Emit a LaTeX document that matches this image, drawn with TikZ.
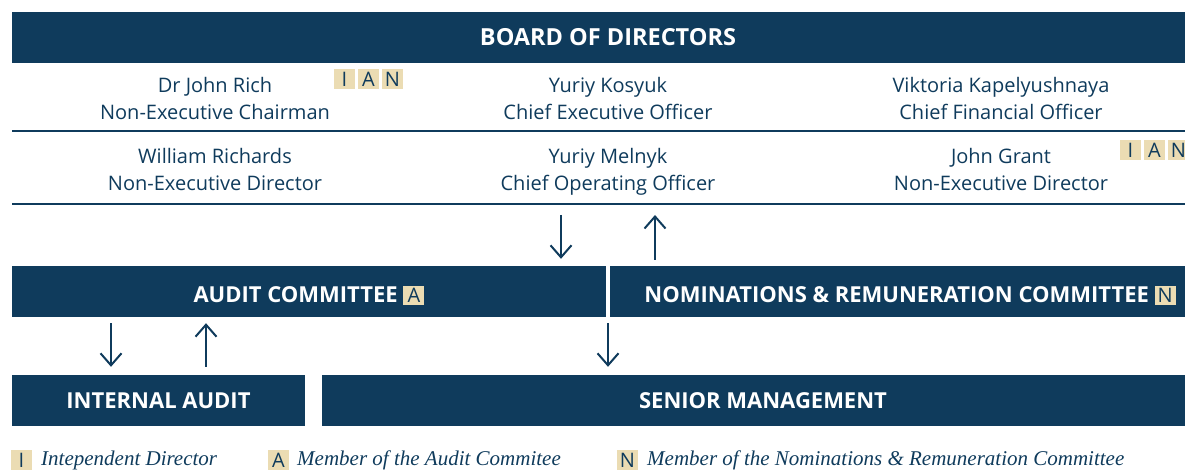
\documentclass[tikz,border=0pt]{standalone}
\usepackage{fontspec}
\setmainfont{Open Sans}
\newfontfamily\legendfont{Liberation Serif}
\usetikzlibrary{arrows.meta}
\definecolor{navy}{HTML}{0F3B5C}
\definecolor{sand}{HTML}{EBDCB3}
\newcommand\tagbox[1]{{\setlength\fboxsep{0pt}\colorbox{sand}{\rule[-2pt]{0pt}{19pt}\makebox[21pt]{\color{navy}\mdseries\fontsize{20}{20}\selectfont#1}}}}
\tikzset{
  bar/.style={fill=navy, text=white, inner sep=0pt, minimum height=51pt,
    font=\bfseries\fontsize{22}{22}\selectfont},
  tagged/.style={text height=24pt, text depth=2pt},
  person/.style={text=navy, align=center, font=\fontsize{20}{27}\selectfont,
    execute at begin node=\strut, execute at end node=\strut},
  badge/.style={fill=sand, text=navy, inner sep=0pt, minimum width=21pt,
    minimum height=20pt, font=\fontsize{20}{20}\selectfont},
  rowline/.style={navy, line width=2.5pt},
  flow/.style={navy, line width=2pt, -{Straight Barb[length=12pt,width=21pt]}},
  legend/.style={text=navy, anchor=west, inner sep=0pt,
    font=\legendfont\itshape\fontsize{21}{21}\selectfont}
}

\begin{document}
\begin{tikzpicture}[x=1pt,y=-1pt]
\clip (0,0) rectangle (1185,470);

\node[bar, minimum width=1192pt, font=\bfseries\fontsize{23.5}{23.5}\selectfont] (board) at (608,37.5) {BOARD OF DIRECTORS};

\node[person] (rich)     at (215,102)  {Dr John Rich\\Non-Executive Chairman};
\node[person] (kosyuk)   at (608,102)  {Yuriy Kosyuk\\Chief Executive Officer};
\node[person] (kapel)    at (1001,102) {Viktoria Kapelyushnaya\\Chief Financial Officer};
\node[person] (richards) at (215,173)  {William Richards\\Non-Executive Director};
\node[person] (melnyk)   at (608,173)  {Yuriy Melnyk\\Chief Operating Officer};
\node[person] (grant)    at (1001,173) {John Grant\\Non-Executive Director};

\foreach \t [count=\i] in {I,A,N} {
  \node[badge] (rich\t)  at (320.5+24*\i,79)  {\t};
  \node[badge] (grant\t) at (1106.5+24*\i,150) {\t};
}

\coordinate (rule1) at (12,131);
\coordinate (rule2) at (12,204);
\draw[rowline] (rule1) -- (1185,131);
\draw[rowline] (rule2) -- (1185,204);

\node[bar, tagged, minimum width=594pt] (audit) at (309,291.5) {AUDIT COMMITTEE \tagbox{A}};
\node[bar, tagged, minimum width=600pt] (nom) at (910,291.5) {NOMINATIONS \& REMUNERATION COMMITTEE \tagbox{N}};
\node[bar, minimum width=293pt] (internal) at (158.5,400.5) {INTERNAL AUDIT};
\node[bar, minimum width=882pt] (senior) at (763,400.5) {SENIOR MANAGEMENT};

\coordinate (x1) at (561,0);
\coordinate (x2) at (655,0);
\coordinate (x3) at (111,0);
\coordinate (x4) at (206,0);
\coordinate (x5) at (608,0);
\draw[flow, shorten <=11pt, shorten >=7pt] (x1 |- rule2) -- (x1 |- audit.north);
\draw[flow, shorten <=6pt, shorten >=11pt] (x2 |- nom.north) -- (x2 |- rule2);
\draw[flow, shorten <=6pt, shorten >=8pt] (x3 |- audit.south) -- (x3 |- internal.north);
\draw[flow, shorten <=8pt, shorten >=6pt] (x4 |- internal.north) -- (x4 |- audit.south);
\draw[flow, shorten <=6pt, shorten >=8pt] (x5 |- audit.south) -- (x5 |- senior.north);

\node[badge] (legI) at (21.5,460) {I};
\node[legend] (legIt) at (41,460) {Intependent Director};
\node[badge] (legA) at (278.5,460) {A};
\node[legend] (legAt) at (297,460) {Member of the Audit Commitee};
\node[badge] (legN) at (627.5,460) {N};
\node[legend] (legNt) at (647,460) {Member of the Nominations \& Remuneration Committee};
\end{tikzpicture}
\end{document}
